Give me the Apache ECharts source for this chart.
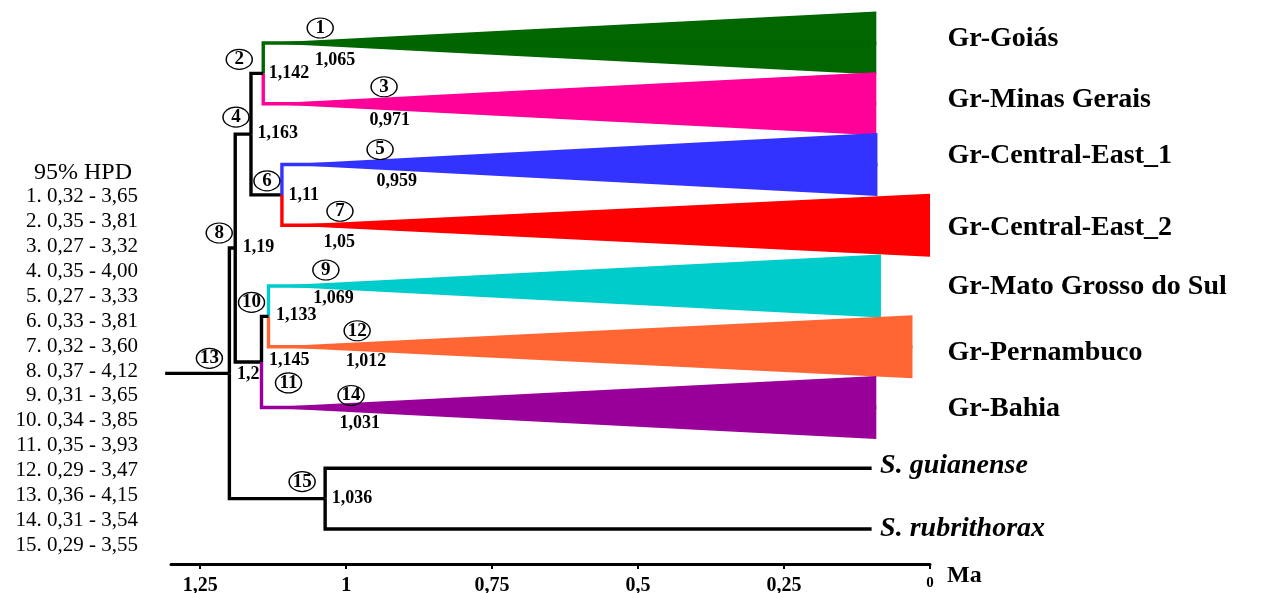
<!DOCTYPE html>
<html><head><meta charset="utf-8">
<script src="https://cdn.jsdelivr.net/npm/echarts@6/dist/echarts.min.js"></script>
<style>html,body{margin:0;padding:0;background:#fff}#c{width:1263px;height:593px}</style>
</head><body><div id="c"></div>
<script>
// ---------------- DATA ----------------
const tipNames = ['Gr-Goiás','Gr-Minas Gerais','Gr-Central-East_1','Gr-Central-East_2','Gr-Mato Grosso do Sul','Gr-Pernambuco','Gr-Bahia','S. guianense','S. rubrithorax'];
const tipEndMa = [0.092, 0.092, 0.09, 0.0, 0.084, 0.03, 0.092, 0.1, 0.1];
const tipCrownNode = [1, 3, 5, 7, 9, 12, 14, null, null];
const nodeAgesMa = [1.065, 1.142, 0.971, 1.163, 0.959, 1.11, 1.05, 1.19, 1.069, 1.133, 1.145, 1.012, 1.2, 1.031, 1.036];
const hpdLower = [0.32, 0.35, 0.27, 0.35, 0.27, 0.33, 0.32, 0.37, 0.31, 0.34, 0.35, 0.29, 0.36, 0.31, 0.29];
const hpdUpper = [3.65, 3.81, 3.32, 4.00, 3.33, 3.81, 3.60, 4.12, 3.65, 3.85, 3.93, 3.47, 4.15, 3.54, 3.55];
const rootStemMa = 1.31;
const axisTickMa = [0, 0.25, 0.5, 0.75, 1, 1.25];
const treeChildren = {2:['t0','t1'], 6:['t2','t3'], 4:['n2','n6'], 10:['t4','t5'], 11:['n10','t6'], 8:['n4','n11'], 15:['t7','t8'], 13:['n8','n15']};
const rootNode = 13;

// ---------------- STYLE / LAYOUT ----------------
const cladeColors = ['#006600', '#ff0099', '#3333ff', '#ff0000', '#00cccc', '#ff6633', '#990099', null, null];
const triHalf = 0.52;
const circleOffsets = {1:[12,-15], 2:[-24,-14], 3:[21,-17], 4:[-15,-17], 5:[10,-15], 6:[-15,-14], 7:[23,-14], 8:[-16,-15], 9:[20,-16], 10:[-17,-14], 11:[27,21], 12:[18,-16], 13:[-20,-15], 14:[23,-12], 15:[-23,-17]};
const ageLabelOffsets = {1:[6,17], 2:[5,0], 3:[6,17], 4:[6,-1], 5:[6,17], 6:[6,0], 7:[6,17], 8:[7,-1], 9:[7,12], 10:[7,-1], 11:[7,-2], 12:[6,15], 13:[7,1], 14:[11,16], 15:[6,0]};
const tipLabelOffsets = [[17,-4.5],[17,-4],[17,-9],[17,3],[17,1],[17,6],[17,1],[8,-2],[8,0]];
const SERIF = '"Liberation Serif", "Times New Roman", serif';
const AXIS_Y = 564;

// ---------------- TREE GEOMETRY ----------------
const age = n => nodeAgesMa[n - 1];
const yOf = {};
function getY(key) {
  if (key[0] === 't') return +key.slice(1);
  const n = +key.slice(1);
  if (yOf[n] == null) { const ch = treeChildren[n]; yOf[n] = (getY(ch[0]) + getY(ch[1])) / 2; }
  return yOf[n];
}
getY('n' + rootNode);
const parentOf = {};
Object.keys(treeChildren).forEach(n => treeChildren[n].forEach(c => { parentOf[c] = +n; }));

const edges = [];
const edgeColors = [];
Object.keys(treeChildren).forEach(n => {
  const nn = +n;
  treeChildren[n].forEach(c => {
    const isTip = c[0] === 't';
    const idx = +c.slice(1);
    const x1 = isTip ? tipEndMa[idx] : age(idx);
    edges.push([age(nn), getY('n' + nn), x1, getY(c)]);
    edgeColors.push(isTip && cladeColors[idx] ? cladeColors[idx] : '#000');
  });
});
edges.push([rootStemMa, getY('n' + rootNode), age(rootNode), getY('n' + rootNode)]);
edgeColors.push('#000');

const triangles = [];
const triColors = [];
tipNames.forEach((_, i) => {
  if (!cladeColors[i]) return;
  triangles.push([age(parentOf['t' + i]), i, tipEndMa[i]]);
  triColors.push(cladeColors[i]);
});

function nodePoint(n) {
  if (treeChildren[n]) return [age(n), getY('n' + n)];
  return [age(n), tipCrownNode.indexOf(n)];
}
const nodeNums = nodeAgesMa.map((_, i) => i + 1);

const ageLabelData = nodeNums.map(n => ({
  value: nodePoint(n), name: String(age(n)).replace('.', ','),
  label: { offset: ageLabelOffsets[n] }
}));
const circleData = nodeNums.map(n => ({
  value: nodePoint(n), name: String(n), symbolOffset: circleOffsets[n]
}));
const tipLabelData = tipNames.map((name, i) => ({
  value: [cladeColors[i] ? 0 : tipEndMa[i], i], name,
  label: { offset: tipLabelOffsets[i], fontStyle: cladeColors[i] ? 'normal' : 'italic' }
}));

const fmt2 = v => v.toFixed(2).replace('.', ',');
const graphicEls = [{
  type: 'text', x: 83, y: 172.5,
  style: { text: '95% HPD', font: '24px ' + SERIF, fill: '#000', align: 'center', verticalAlign: 'middle', textAlign: 'center', textVerticalAlign: 'middle' }
}];
hpdLower.forEach((lo, i) => graphicEls.push({
  type: 'text', x: 138, y: 196.3 + i * 24.96,
  style: { text: (i + 1) + '. ' + fmt2(lo) + ' - ' + fmt2(hpdUpper[i]), font: '21px ' + SERIF, fill: '#000', align: 'right', verticalAlign: 'middle', textAlign: 'right', textVerticalAlign: 'middle' }
}));

// ---------------- CHART ----------------
const yTop = -43 / 60.75;
const yBottom = yTop + AXIS_Y / 60.75;
const chart = echarts.init(document.getElementById('c'), null, { renderer: 'canvas' });
chart.setOption({
  animation: false,
  backgroundColor: '#fff',
  grid: { left: 171, right: 333, top: 0, bottom: 593 - AXIS_Y, containLabel: false, outerBoundsMode: 'none' },
  xAxis: [{
    type: 'value', inverse: true, min: 0, max: 1.3, interval: 0.25, position: 'bottom',
    axisLine: { show: true, onZero: false, lineStyle: { color: '#000', width: 3 } },
    axisTick: { show: true, length: 5, lineStyle: { color: '#000', width: 2 }, customValues: axisTickMa },
    axisLabel: {
      customValues: axisTickMa, margin: 12, color: '#000', fontFamily: SERIF, fontWeight: 'bold', fontSize: 20,
      formatter: v => v === 0 ? '{z|0}' : String(v).replace('.', ','),
      rich: { z: { fontFamily: SERIF, fontWeight: 'bold', fontSize: 15, color: '#000' } }
    },
    splitLine: { show: false },
    name: 'Ma', nameLocation: 'start', nameGap: 17,
    nameTextStyle: { color: '#000', fontFamily: SERIF, fontWeight: 'bold', fontSize: 24, verticalAlign: 'top', align: 'left', padding: [0, 0, 0, 0] }
  }, {
    type: 'value', inverse: true, min: 0, max: 1.3, interval: 0.05, position: 'bottom', offset: 0,
    axisLine: { show: false, onZero: false }, axisLabel: { show: false }, splitLine: { show: false },
    axisTick: { show: true, length: 2, lineStyle: { color: '#000', width: 1.5 } }
  }],
  yAxis: { type: 'value', inverse: true, min: yTop, max: yBottom, show: false },
  graphic: { elements: graphicEls },
  series: [{
    type: 'custom', name: 'clades', z: 1, clip: false,
    data: triangles,
    encode: { x: [0, 2], y: 1 },
    renderItem: (params, api) => {
      const t = triangles[params.dataIndex];
      return { type: 'polygon', shape: { points: [api.coord([t[0], t[1]]), api.coord([t[2], t[1] - triHalf]), api.coord([t[2], t[1] + triHalf])] },
        style: { fill: triColors[params.dataIndex], stroke: null } };
    }
  }, {
    type: 'custom', name: 'branches', z: 2, clip: false,
    data: edges,
    encode: { x: [0, 2], y: [1, 3] },
    renderItem: (params, api) => {
      const e = edges[params.dataIndex];
      const pts = e[1] === e[3] ? [api.coord([e[0], e[1]]), api.coord([e[2], e[3]])]
        : [api.coord([e[0], e[1]]), api.coord([e[0], e[3]]), api.coord([e[2], e[3]])];
      return { type: 'polyline', shape: { points: pts },
        style: { stroke: edgeColors[params.dataIndex], lineWidth: 3.4, fill: null, lineJoin: 'miter', lineCap: 'butt' } };
    }
  }, {
    type: 'scatter', name: 'ages', z: 3, clip: false, symbolSize: 1,
    itemStyle: { color: 'rgba(0,0,0,0)', opacity: 1 },
    label: { show: true, position: 'right', distance: 0, formatter: p => p.name, color: '#000', fontFamily: SERIF, fontWeight: 'bold', fontSize: 18 },
    data: ageLabelData
  }, {
    type: 'scatter', name: 'nodes', z: 4, clip: false, symbol: 'circle', symbolSize: [26, 20],
    itemStyle: { color: 'rgba(255,255,255,0)', borderColor: '#000', borderWidth: 1.3, opacity: 1 },
    label: { show: true, position: 'inside', formatter: p => p.name, color: '#000', fontFamily: SERIF, fontWeight: 'bold', fontSize: 19 },
    data: circleData
  }, {
    type: 'scatter', name: 'tips', z: 3, clip: false, symbolSize: 1,
    itemStyle: { color: 'rgba(0,0,0,0)', opacity: 1 },
    label: { show: true, position: 'right', distance: 0, formatter: p => p.name, color: '#000', fontFamily: SERIF, fontWeight: 'bold', fontSize: 28 },
    data: tipLabelData
  }]
});
</script></body></html>
